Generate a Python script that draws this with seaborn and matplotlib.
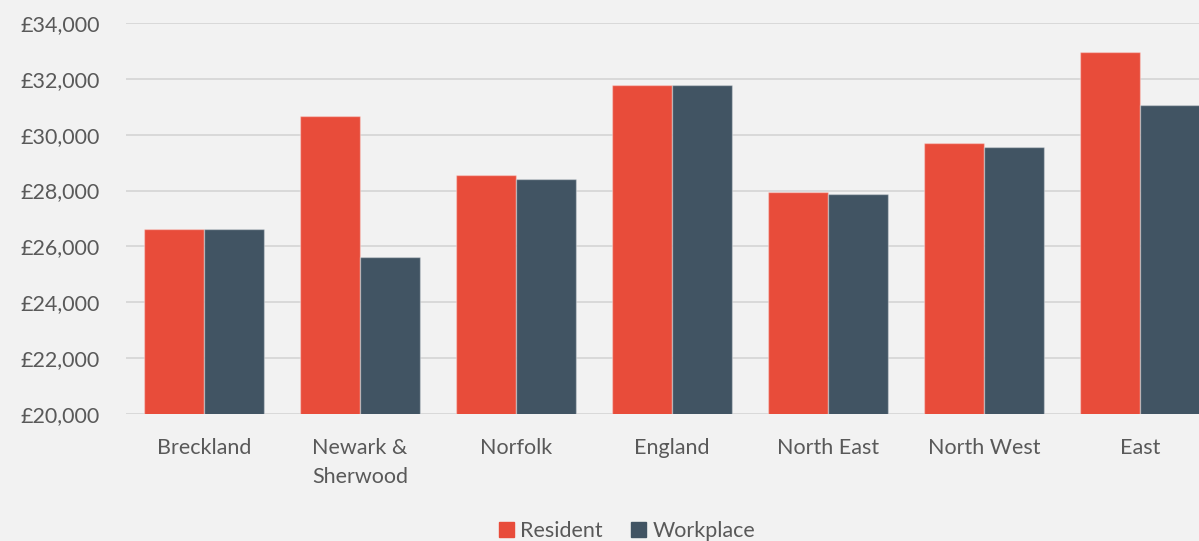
import pandas as pd
import seaborn as sns
import matplotlib.pyplot as plt
from matplotlib.ticker import FuncFormatter

# data
areas = ["Breckland", "Newark &\nSherwood", "Norfolk", "England",
         "North East", "North West", "East"]
resident = [26610, 30680, 28570, 31790, 27960, 29700, 32950]
workplace = [26610, 25610, 28430, 31790, 27860, 29570, 31050]

df = pd.DataFrame({
    "area": areas * 2,
    "pay": resident + workplace,
    "type": ["Resident"] * len(areas) + ["Workplace"] * len(areas),
})

sns.set_style("white")
plt.rcParams["font.family"] = ["Lato", "DejaVu Sans"]

bg = "#f2f2f2"
txt = "#595959"
colors = ["#e84c3a", "#415463"]

fig = plt.figure(figsize=(11.99, 5.41), dpi=100, facecolor=bg)
# chart is cropped on the right in the original, so the axes runs past the edge
ax = fig.add_axes([126 / 1199, 1 - 414 / 541, 1092 / 1199, (414 - 23) / 541])
ax.set_facecolor(bg)

sns.barplot(data=df, x="area", y="pay", hue="type",
            palette=colors, saturation=1, width=0.77,
            edgecolor=(1, 1, 1, 0.35), linewidth=1.0,
            ax=ax, legend=False)

ax.set_ylim(20000, 34000)
ax.set_xlim(-0.5, 6.5)
ax.set_yticks(range(20000, 34001, 2000))
ax.yaxis.set_major_formatter(FuncFormatter(lambda v, p: "£{:,.0f}".format(v)))
ax.grid(axis="y", color="#d9d9d9", linewidth=1.4, zorder=0)
ax.set_axisbelow(True)
for s in ax.spines.values():
    s.set_visible(False)
ax.tick_params(axis="both", length=0, labelsize=15.5, labelcolor=txt)
ax.tick_params(axis="y", pad=19)
ax.tick_params(axis="x", pad=17)
ax.set_xlabel("")
ax.set_ylabel("")
for lab in ax.get_xticklabels():
    lab.set_linespacing(1.6)

handles = [plt.Rectangle((0, 0), 1, 1, color=c) for c in colors]
fig.legend(handles, ["Resident", "Workplace"], loc="center",
           bbox_to_anchor=(627 / 1199, 1 - 531 / 541), ncol=2, frameon=False,
           fontsize=15.5, labelcolor=txt, handlelength=0.7, handleheight=0.7,
           handletextpad=0.3, columnspacing=1.3)

fig.savefig("out.png", dpi=100, facecolor=bg)
